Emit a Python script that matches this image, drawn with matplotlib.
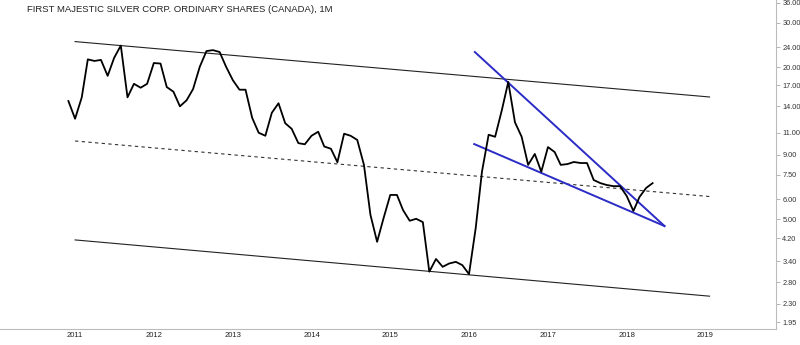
import matplotlib
matplotlib.use('Agg')
import matplotlib.pyplot as plt
from matplotlib.ticker import FixedLocator, NullLocator, NullFormatter
import pandas as pd

plt.rcParams['font.family'] = ['Liberation Sans', 'DejaVu Sans']

# monthly closes, Dec 2010 .. May 2018
dates = pd.date_range('2010-12-01', periods=90, freq='MS')
price = [14.7, 12.5, 15.2, 21.5, 21.2, 21.4, 18.5, 21.8, 24.4, 15.2, 17.2, 16.6, 17.2,
         20.8, 20.7, 16.7, 16.0, 14.0, 14.8, 16.4, 20.1, 23.2, 23.4, 23.0, 20.1,
         17.8, 16.3, 16.3, 12.6, 11.0, 10.7, 13.2, 14.4, 12.0, 11.4, 10.0, 9.9,
         10.7, 11.1, 9.7, 9.5, 8.4, 10.9, 10.7, 10.3, 8.2, 5.2, 4.06, 5.04,
         6.23, 6.23, 5.43, 4.92, 5.01, 4.86, 3.09, 3.47, 3.23, 3.33, 3.38, 3.28,
         3.02, 4.6, 7.7, 10.8, 10.6, 13.5, 17.5, 12.1, 10.6, 8.2, 9.06, 7.7,
         9.65, 9.22, 8.2, 8.26, 8.42, 8.34, 8.34, 7.14, 6.94, 6.82, 6.75, 6.75,
         6.17, 5.38, 6.11, 6.64, 6.94]

# channel lines (start/end)
chan_x = ['2011-01-01', '2019-01-20']
chan_upper = [25.3, 15.25]
chan_mid = [10.2, 6.14]
chan_lower = [4.13, 2.47]

# wedge lines
wedge_top_x = ['2016-01-28', '2018-06-25']
wedge_top = [23.0, 4.69]
wedge_bot_x = ['2016-01-25', '2018-06-25']
wedge_bot = [9.92, 4.69]

yticks = [1.95, 2.30, 2.80, 3.40, 4.20, 5.00, 6.00, 7.50, 9.00, 11.00, 14.00, 17.00, 20.00, 24.00, 30.00, 36.00]
years = list(range(2011, 2020))

fig = plt.figure(figsize=(8, 3.45), dpi=100)
ax = fig.add_axes([0, 0.0464, 0.97, 0.9536])

ax.plot(pd.to_datetime(chan_x), chan_upper, color='#222222', lw=0.8)
ax.plot(pd.to_datetime(chan_x), chan_lower, color='#222222', lw=0.8)
ax.plot(pd.to_datetime(chan_x), chan_mid, color='#333333', lw=0.8, dashes=(3, 3))
ax.plot(pd.to_datetime(wedge_top_x), wedge_top, color='#2b2bc6', lw=1.4)
ax.plot(pd.to_datetime(wedge_bot_x), wedge_bot, color='#2b2bc6', lw=1.4)
ax.plot(dates, price, color='black', lw=1.3)

ax.set_yscale('log')
ax.set_ylim(1.83, 37.0)
ax.set_xlim(pd.Timestamp('2010-01-18'), pd.Timestamp('2019-11-24'))

ax.yaxis.set_major_locator(FixedLocator(yticks))
ax.yaxis.set_minor_locator(NullLocator())
ax.yaxis.set_minor_formatter(NullFormatter())
ax.set_yticklabels(['%.2f' % v for v in yticks])
ax.yaxis.tick_right()
ax.tick_params(axis='y', which='major', length=3, width=0.6, color='#aaaaaa',
               labelsize=5.3, labelcolor='#333333', pad=1.5)

ax.set_xticks([pd.Timestamp('%d-01-01' % y) for y in years])
ax.set_xticklabels([str(y) for y in years])
ax.tick_params(axis='x', length=0, labelsize=5.5, labelcolor='#222222', pad=2)

for s in ['top', 'left']:
    ax.spines[s].set_visible(False)
for s in ['right', 'bottom']:
    ax.spines[s].set_color('#bbbbbb')
    ax.spines[s].set_linewidth(0.8)

fig.text(0.034, 0.972, 'FIRST MAJESTIC SILVER CORP. ORDINARY SHARES (CANADA), 1M',
         fontsize=6.8, color='#222222', va='center', ha='left')

fig.savefig('out.png', dpi=100)
